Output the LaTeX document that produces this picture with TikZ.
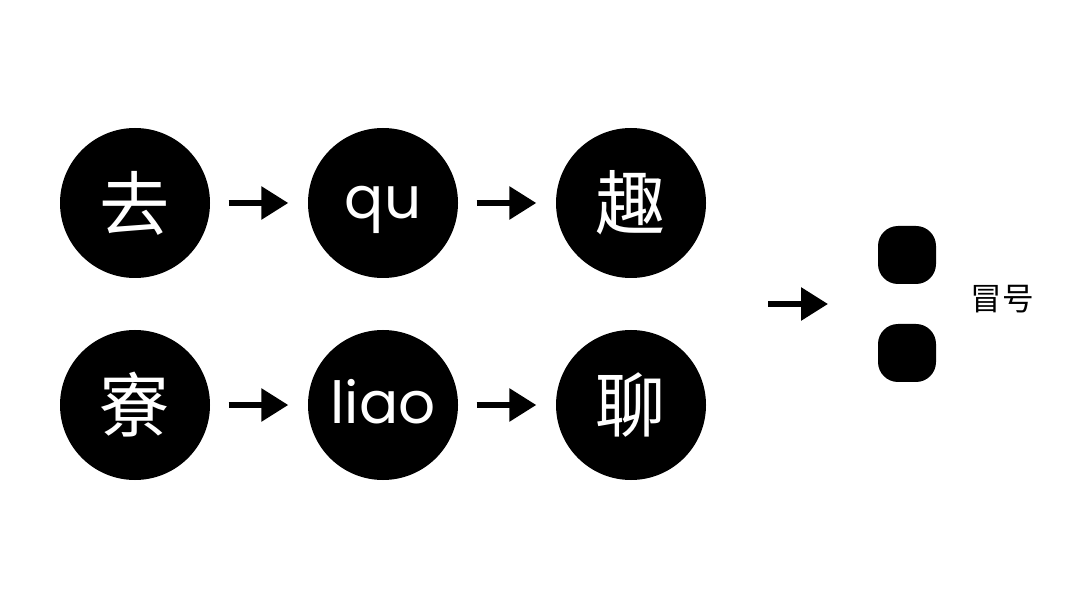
\documentclass[tikz,border=0pt]{standalone}
\usepackage{fontspec}
\setmainfont{Poppins}
\newfontfamily\cjk{Noto Sans CJK SC}
\usetikzlibrary{arrows.meta}
\tikzset{
  ball/.style={circle,fill=black,text=white,minimum size=1.50cm,inner sep=0pt},
  hanzi/.style={font=\cjk\fontsize{20}{24}\selectfont},
  pinyin/.style={font=\fontsize{16.5}{20}\selectfont},
  arr/.style={line width=1.7pt,-{Triangle[length=0.27cm,width=0.32cm]},shorten <=0.18cm,shorten >=0.19cm},
  dot/.style={fill=black,rounded corners=0.20cm,minimum size=0.58cm,inner sep=0pt}
}

\begin{document}
\begin{tikzpicture}[x=1cm,y=1cm]
\path[use as bounding box] (0,0) rectangle (10.80,6.09);
% top row
\node[ball,hanzi] (qu1) at (1.35,4.06) {去};
\node[ball,pinyin,text height=0.38cm,text depth=0.06cm] (qu2) at (3.83,4.06) {qu};
\node[ball,hanzi] (qu3) at (6.31,4.06) {趣};
% bottom row
\node[ball,hanzi] (liao1) at (1.35,2.04) {寮};
\node[ball,pinyin,text height=0.45cm,text depth=0.09cm] (liao2) at (3.83,2.04) {liao};
\node[ball,hanzi] (liao3) at (6.31,2.04) {聊};
\draw[arr] (qu1) -- (qu2);
\draw[arr] (qu2) -- (qu3);
\draw[arr] (liao1) -- (liao2);
\draw[arr] (liao2) -- (liao3);
% colon
\node[dot] (dotA) at (9.07,3.54) {};
\node[dot] (dotB) at (9.07,2.56) {};
\node[font=\cjk\fontsize{9}{11}\selectfont] (colon) at (10.02,3.10) {冒号};
\coordinate (src) at (7.68,3.05);
\coordinate (tip) at (8.28,3.05);
\draw[arr,shorten <=0pt,shorten >=0pt] (src) -- (tip);
\end{tikzpicture}
\end{document}
